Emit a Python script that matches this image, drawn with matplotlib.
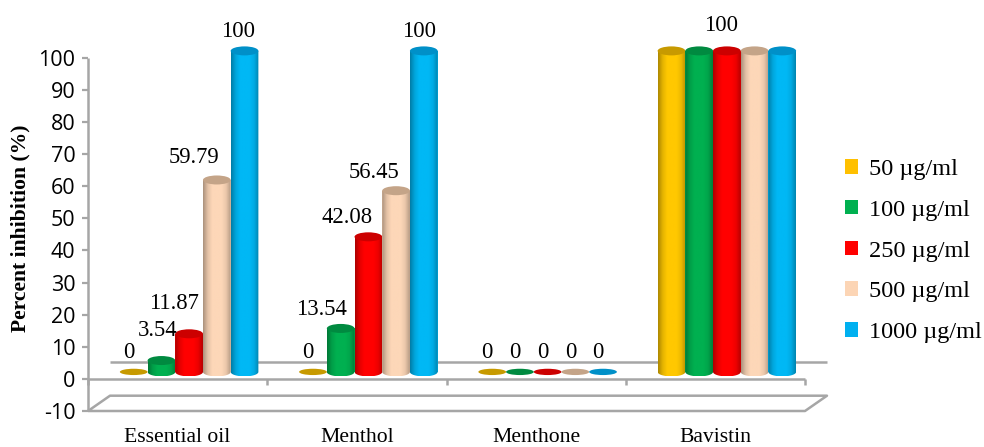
import matplotlib
matplotlib.use("Agg")
import matplotlib.pyplot as plt
import numpy as np
from matplotlib.colors import LinearSegmentedColormap, to_rgb
from matplotlib.patches import Ellipse, Patch, PathPatch
from matplotlib.path import Path

plt.rcParams["axes.unicode_minus"] = False

categories = ["Essential oil", "Menthol", "Menthone", "Bavistin"]
doses = ["50 µg/ml", "100 µg/ml", "250 µg/ml", "500 µg/ml", "1000 µg/ml"]
essential_oil = [0, 3.54, 11.87, 59.79, 100]
menthol = [0, 13.54, 42.08, 56.45, 100]
menthone = [0, 0, 0, 0, 0]
bavistin = [100, 100, 100, 100, 100]
yticks = list(range(-10, 101, 10))

colors = ["#ffc800", "#00b050", "#ff0000", "#fdd7b8", "#00b8f5"]
top_colors = ["#c79a00", "#008a40", "#cc0000", "#c4a488", "#0090c8"]
legend_colors = ["#ffc000", "#00b050", "#ff0000", "#fcd5b5", "#00b0f0"]

W, H = 984, 447
PX_X = 179.25  # pixels per category
PX_Y = 32.1 / 10  # pixels per percent
YMAX = 115  # room above 100 for the cylinder tops

fig = plt.figure(figsize=(W / 100, H / 100), dpi=100)
ax_h = (YMAX + 10) * PX_Y
ax = fig.add_axes([88 / W, 1 - 411 / H, 717 / W, ax_h / H])
for s in ["top", "right", "bottom", "left"]:
    ax.spines[s].set_visible(False)

GREY = "#a6a6a6"
sans = "Open Sans"
serif = "Liberation Serif"

# 3D box: depth shift of the back plane
dx = 22 / PX_X
dy = 17 / PX_Y
kw = dict(color=GREY, lw=1.8, clip_on=False, zorder=1, solid_capstyle="butt")
ax.plot([-0.5, -0.5], [-10, 100], **kw)
ax.plot([-0.5, 3.5], [0, 0], **kw)
ax.plot([-0.5 + dx, 3.5 + dx], [dy, dy], **kw)
ax.plot([-0.5, 3.5, 3.5 + dx, -0.5 + dx, -0.5], [-10, -10, -10 + dy * 0.9, -10 + dy * 0.9, -10], **kw)
for i in range(0, 5):
    ax.plot([i - 0.5, i - 0.5], [0, -2], **kw)

# bars sit half way into the floor
bx = 11.5 / PX_X
by = 7 / PX_Y
bw = 27.7 / PX_X
eh = 9 / PX_Y


def shade(c):
    r = np.array(to_rgb(c))
    stops = [r * 0.68, r * 0.9, r, r, r, r * 0.93, r * 0.72]
    return LinearSegmentedColormap.from_list("s", [tuple(v) for v in stops])


def cylinder(xc, val, j):
    if val <= 0:
        ax.add_patch(Ellipse((xc, by), bw, eh * 0.7, fc=top_colors[j], ec="none", zorder=3 + j))
        return
    ax.bar(xc, val, width=bw, bottom=by, color=colors[j], zorder=3 + j)
    # rounded lower edge, shaded across the width
    t = np.linspace(0, np.pi, 40)
    low = np.column_stack([xc + bw / 2 * np.cos(t), by - eh / 2 * np.sin(t)])
    xy = np.vstack([[xc + bw / 2, by + val], low, [xc - bw / 2, by + val], [xc + bw / 2, by + val]])
    clip = PathPatch(Path(xy), transform=ax.transData, fc="none", ec="none")
    ax.add_patch(clip)
    grad = np.linspace(0, 1, 64).reshape(1, -1)
    im = ax.imshow(grad, cmap=shade(colors[j]), aspect="auto", interpolation="bilinear",
                   extent=[xc - bw / 2, xc + bw / 2, by - eh / 2, by + val], zorder=3 + j)
    im.set_clip_path(clip)
    ax.add_patch(Ellipse((xc, by + val), bw, eh, fc=top_colors[j], ec="none", zorder=3 + j))


series = [essential_oil, menthol, menthone, bavistin]
for i, vals in enumerate(series):
    for j, v in enumerate(vals):
        cylinder(i + bx + (j - 2) * bw, v, j)
ax.set_xlim(-0.5, 3.5)
ax.set_ylim(-10, YMAX)

# value labels, offsets in pixels from the bar top
label_offsets = [
    [(-5, 19), (-4, 30), (-15, 30), (-23, 22), (-6, 19)],
    [(-5, 19), (-19, 19), (-21, 19), (-22, 18), (-5, 19)],
    [(-5, 19), (-5, 19), (-5, 19), (-5, 19), (-5, 19)],
    [None, None, (-6, 25), None, None],
]
for i, vals in enumerate(series):
    for j, v in enumerate(vals):
        off = label_offsets[i][j]
        if off is None:
            continue
        ax.text(i + bx + (j - 2) * bw + off[0] / PX_X, by + v + off[1] / PX_Y, f"{v:g}",
                family=serif, fontsize=16.3, ha="center", va="center", clip_on=False, zorder=20)

ax.set_xticks(range(4))
ax.set_xticklabels([])
for i, c in enumerate(categories):
    ax.text(i, -10 - 26 / PX_Y, c, family=serif, fontsize=15.6, ha="center", va="center",
            clip_on=False)
ax.set_yticks(yticks)
ax.tick_params(axis="x", length=0)
ax.tick_params(axis="y", length=4, width=1.6, color=GREY, pad=5, labelsize=15.5)
for lab in ax.get_yticklabels():
    lab.set_family(sans)
fig.text(20 / W, 1 - 228 / H, "Percent inhibition (%)", family=serif, fontweight="bold", fontsize=15.6,
         rotation=90, ha="center", va="center")

handles = [Patch(fc=c, ec="none", label=d) for c, d in zip(legend_colors, doses)]
fig.legend(handles=handles, loc="center left", bbox_to_anchor=(845 / W, 1 - 251 / H), frameon=False,
           prop={"family": serif, "size": 17.5}, handlelength=0.54, handleheight=0.54,
           labelspacing=0.81, handletextpad=0.46, borderpad=0, borderaxespad=0)

fig.savefig("out.png", dpi=100)
